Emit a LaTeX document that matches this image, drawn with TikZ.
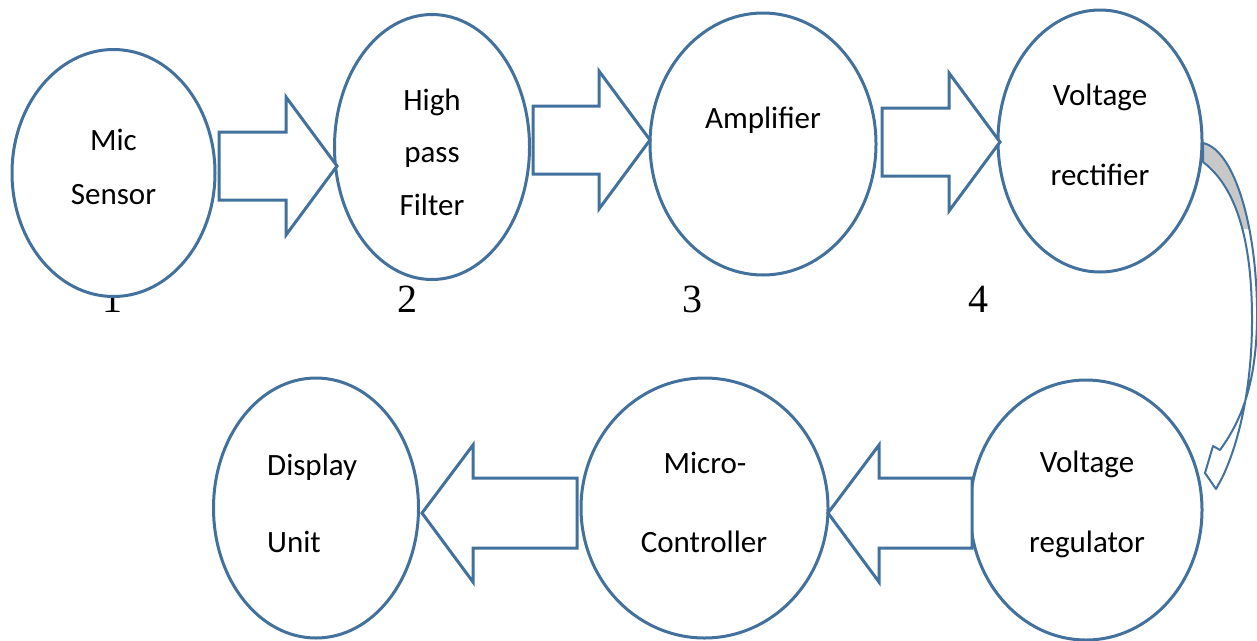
\documentclass[tikz,border=0pt]{standalone}
\usepackage{fontspec}
\setmainfont{Carlito}
\newfontfamily\digitfont{Liberation Serif}
\usetikzlibrary{shapes.geometric}
\definecolor{lineblue}{RGB}{65,113,156}
\definecolor{bandgrey}{RGB}{200,200,200}
\tikzset{
  blob/.style={ellipse, draw=lineblue, fill=white, line width=3pt, inner sep=0pt},
  lbl/.style={inner sep=0pt, anchor=base, font=\fontsize{31}{31}\selectfont},
  num/.style={inner sep=0pt, anchor=base, font=\digitfont\fontsize{40}{40}\selectfont},
  blk/.style={draw=lineblue, fill=white, line width=3pt, line join=miter},
  curv/.style={draw=lineblue, line width=2pt, line join=round}
}
\newcommand\blockR[3]{% tip x, tip y, tail x (pointing right)
  \draw[blk] ({#3},{#2-34}) -- ({#1-51},{#2-34}) -- ({#1-51},{#2-69}) -- ({#1},{#2})
    -- ({#1-51},{#2+69}) -- ({#1-51},{#2+34}) -- ({#3},{#2+34}) -- cycle;}
\newcommand\blockL[3]{% tip x, tip y, tail x (pointing left)
  \draw[blk] ({#3},{#2-35}) -- ({#1+51},{#2-35}) -- ({#1+51},{#2-68}) -- ({#1},{#2})
    -- ({#1+51},{#2+69}) -- ({#1+51},{#2+35}) -- ({#3},{#2+35}) -- cycle;}
\begin{document}
\begin{tikzpicture}[x=1pt,y=-1pt]
\useasboundingbox (0,0) rectangle (1257,640);
% step numbers (partly hidden behind the ellipses)
\node[num] (n1) at (112,312) {1};
\node[num] (n2) at (407,312) {2};
\node[num] (n3) at (692,312) {3};
\node[num] (n4) at (978,312) {4};
% ellipses
\node[blob, minimum width=203pt, minimum height=247pt] (mic) at (113.5,173) {};
\node[blob, minimum width=195pt, minimum height=265pt] (hpf) at (432,147) {};
\node[blob, minimum width=226pt, minimum height=262pt] (amp) at (763,144) {};
\node[blob, minimum width=204pt, minimum height=262pt] (rect) at (1100,141) {};
\node[blob, minimum width=205pt, minimum height=260pt] (disp) at (316,508) {};
\node[blob, minimum width=247pt, minimum height=260pt] (mcu) at (704.5,508) {};
\node[blob, minimum width=232pt, minimum height=260pt] (reg) at (1086,510) {};
% labels
\node[lbl] (tmic) at (113.5,150) {Mic};
\node[lbl] (tsens) at (113.5,204) {Sensor};
\node[lbl] (thigh) at (432,110) {High};
\node[lbl] (tpass) at (432,162) {pass};
\node[lbl] (tfilt) at (432,215) {Filter};
\node[lbl] (tamp) at (763,128) {Amplifier};
\node[lbl] (tvolt1) at (1100,105) {Voltage};
\node[lbl] (trect) at (1100,185) {rectifier};
\node[lbl, anchor=base west] (tdisp) at (267,475) {Display};
\node[lbl, anchor=base west] (tunit) at (267,552) {Unit};
\node[lbl] (tmicro) at (705,473) {Micro-};
\node[lbl] (tctrl) at (704,552) {Controller};
\node[lbl] (tvolt2) at (1087,472) {Voltage};
\node[lbl] (treg) at (1087,552) {regulator};
% block arrows
\blockR{337}{166}{219}
\blockR{650}{140}{533}
\blockR{1000}{142}{882}
\blockL{828}{513}{972}
\blockL{422}{513}{577}
% curved arrow from rectifier to regulator
\coordinate (cs1) at (1203,143);
\coordinate (cs2) at (1203,162);
\def\curvpath{(cs1) .. controls (1235,150) and (1258,230) .. (1257,320)
  .. controls (1256,390) and (1238,425) .. (1220,450) -- (1213,446) -- (1205,473)
  -- (1216,489) -- (1222,478) .. controls (1238,445) and (1252,390) .. (1252,320)
  .. controls (1252,250) and (1240,190) .. (cs2) -- cycle}
\fill[white] \curvpath;
\begin{scope}
  \clip (1195,130) rectangle (1262,228);
  \fill[bandgrey] \curvpath;
\end{scope}
\draw[curv] \curvpath;
\end{tikzpicture}
\end{document}
